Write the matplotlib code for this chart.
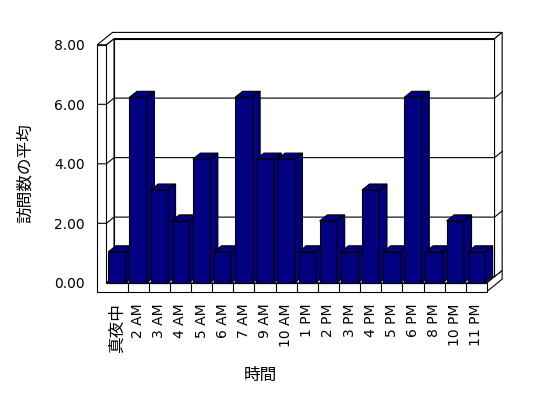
import matplotlib
matplotlib.use("Agg")
import matplotlib.pyplot as plt
from matplotlib.patches import Polygon

plt.rcParams["font.family"] = ["DejaVu Sans", "Noto Sans CJK JP"]

# data
hours = ["真夜中", "2 AM", "3 AM", "4 AM", "5 AM", "6 AM", "7 AM", "9 AM", "10 AM",
         "1 PM", "2 PM", "3 PM", "4 PM", "5 PM", "6 PM", "8 PM", "10 PM", "11 PM"]
avg_visits = [1, 6, 3, 2, 4, 1, 6, 4, 4, 1, 2, 1, 3, 1, 6, 1, 2, 1]
y_ticks = [0, 2, 4, 6, 8]
x_title = "時間"
y_title = "訪問数の平均"

NAVY = "#000080"
W, H = 548, 398

# pixel layout of the old-style 3D chart
CAT_PX, CAT0_PX = 21.14, 117.0          # category width / centre of first category
V0_PX, V_PX = 282.8, 29.75              # frame: value 0 row / pixels per unit
BV0_PX, BV_PX = 282.7, 30.9             # bars are drawn slightly taller
L, R, T, B = 97.3, 510.0, 20.0, 300.0   # axes box in pixels

fig = plt.figure(figsize=(W / 100, H / 100), dpi=100)
fig.patch.set_facecolor("white")
rect = [L / W, 1 - B / H, (R - L) / W, (B - T) / H]
xlim = ((L - CAT0_PX) / CAT_PX, (R - CAT0_PX) / CAT_PX)

ax = fig.add_axes(rect)
ax.set_xlim(xlim)
ax.set_ylim((V0_PX - B) / V_PX, (V0_PX - T) / V_PX)
ax.patch.set_alpha(0)
for s in ax.spines.values():
    s.set_visible(False)

n = len(hours)
DX, DY = 7.6 / CAT_PX, 6.2 / V_PX       # one depth step
xl_o, xl_i, xr = (L - CAT0_PX) / CAT_PX, -0.5, n - 0.5
top, fbot = y_ticks[-1], -(291.5 - V0_PX) / V_PX
lw = 0.8

def poly(pts, **kw):
    ax.add_patch(Polygon(pts, closed=True, facecolor="white", edgecolor="black",
                         lw=lw, joinstyle="miter", clip_on=False, **kw))

# back wall, left wall inner face, top, right ends, floor
poly([(xl_i + DX, DY), (xr + DX, DY), (xr + DX, top + DY), (xl_i + DX, top + DY)])
poly([(xl_i, 0), (xl_i, top), (xl_i + DX, top + DY), (xl_i + DX, DY)])
poly([(xl_i, 0), (xr, 0), (xr + DX, DY), (xl_i + DX, DY)])
poly([(xl_o, top), (xl_i, top), (xl_i + DX, top + DY), (xr + DX, top + DY),
      (xr + 2 * DX, top + 2 * DY), (xl_o + 2 * DX, top + 2 * DY)])
poly([(xr, 0), (xr, fbot), (xr + 2 * DX, fbot + 2 * DY), (xr + 2 * DX, 2 * DY), (xr + DX, DY)])
poly([(xr + DX, DY), (xr + DX, top + DY), (xr + 2 * DX, top + 2 * DY), (xr + 2 * DX, 2 * DY)])
poly([(xl_o, fbot), (xr, fbot), (xr, 0), (xl_i, 0), (xl_i, top), (xl_o, top)])

for v in y_ticks[1:-1]:
    ax.plot([xl_o, xl_i, xl_i + DX, xr + DX, xr + 2 * DX],
            [v, v, v + DY, v + DY, v + 2 * DY], color="black", lw=lw)
for k in range(1, n):
    ax.plot([k - 0.5, k - 0.5], [fbot, 0], color="black", lw=lw)

ax.set_yticks(y_ticks)
ax.set_yticklabels([f"{v:.2f}" for v in y_ticks])
ax.set_xticks(range(n))
ax.set_xticklabels(hours, rotation=90)
ax.tick_params(axis="both", length=0, labelsize=10)
ax.tick_params(axis="y", pad=8.8)
ax.tick_params(axis="x", pad=2.4)
for lab in ax.get_xticklabels():
    if not lab.get_text().isascii():
        lab.set_fontsize(12)

# bars on their own overlay axes
bx = fig.add_axes(rect)
bx.set_xlim(xlim)
bx.set_ylim((BV0_PX - B) / BV_PX, (BV0_PX - T) / BV_PX)
bx.axis("off")
bx.patch.set_alpha(0)
bdx, bdy = 7.6 / CAT_PX, 6.0 / BV_PX
bars = bx.bar(range(n), avg_visits, width=17.4 / CAT_PX, color=NAVY,
              edgecolor="black", lw=lw)
for i, p in enumerate(bars.patches):
    x0, x1, h = p.get_x(), p.get_x() + p.get_width(), p.get_height()
    z = 10 + i
    p.set_zorder(z)
    bx.add_patch(Polygon([(x0, h), (x1, h), (x1 + bdx, h + bdy), (x0 + bdx, h + bdy)],
                         facecolor=NAVY, edgecolor="black", lw=lw, zorder=z))
    bx.add_patch(Polygon([(x1, 0), (x1, h), (x1 + bdx, h + bdy), (x1 + bdx, bdy)],
                         facecolor=NAVY, edgecolor="black", lw=lw, zorder=z))

fig.text(25 / W, 1 - 173 / H, y_title, rotation=90, ha="center", va="center",
         fontsize=12, family=["Noto Sans CJK JP"])
fig.text(260 / W, 1 - 375 / H, x_title, ha="center", va="center",
         fontsize=12, family=["Noto Sans CJK JP"])

fig.savefig("out.png", dpi=100, facecolor="white")
